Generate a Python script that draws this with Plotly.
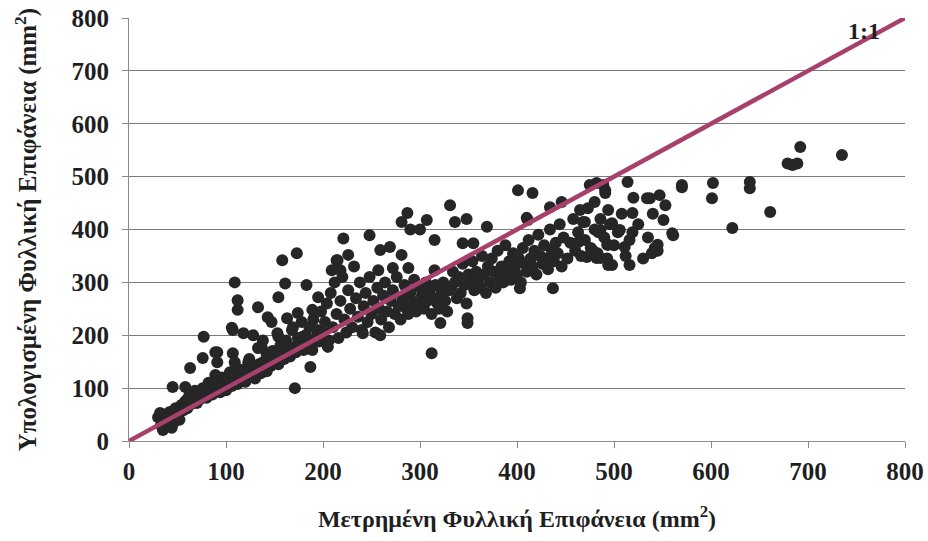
import plotly.graph_objects as go

# Measured leaf area (x) vs. estimated leaf area (y), mm^2
measured = [
    30,33,36,38,40,42,44,46,48,50,52,54,56,58,60,62,64,66,68,70,72,74,76,78,80,82,84,86,88,90,92,94,96,98,100,
    32,39,44,35,49,60,70,80,94,45,58,63,76,77,89,89,91,91,107,118,128,107,109,123,137,142,138,171,
    102,104,106,108,110,112,114,116,118,120,122,124,126,128,130,132,134,136,138,140,142,144,146,148,150,
    152,154,156,158,160,162,164,166,168,170,172,174,176,178,180,182,184,186,188,190,192,194,196,198,200,
    109,112,112,106,133,133,143,147,154,158,173,161,183,187,154,158,174,189,195,205,209,215,153,159,169,179,189,163,
    202,204,206,208,210,212,214,216,218,220,222,224,226,228,230,232,234,236,238,240,242,244,246,248,250,
    252,254,256,258,260,262,264,266,268,270,272,274,276,278,280,282,284,286,288,290,292,294,296,298,300,
    302,304,306,308,310,312,314,316,318,320,322,324,326,328,330,
    221,248,226,214,218,287,281,290,300,307,331,336,348,369,401,411,416,315,259,269,281,272,288,257,315,344,355,
    321,349,312,259,241,349,403,437,
    332,334,336,338,340,342,344,346,348,350,352,354,356,358,360,362,364,366,368,370,372,374,376,378,380,
    382,384,386,388,390,392,394,396,398,400,402,404,406,408,410,412,414,416,418,420,422,424,426,428,430,
    432,434,436,438,440,442,444,446,448,
    452,455,458,460,463,466,470,473,476,480,483,486,490,493,496,500,504,508,512,516,520,525,530,535,540,545,
    434,446,465,475,482,491,410,468,484,463,472,482,493,494,489,514,570,602,601,491,534,547,553,480,494,519,551,
    470,498,506,519,486,561,622,494,511,478,486,542,539,498,516,692,679,689,684,735,570,640,640,661,560,545,537,
]
estimated = [
    45,30,50,38,28,55,42,35,62,50,40,68,58,75,62,85,70,78,95,72,88,80,100,90,82,110,95,88,105,98,115,92,120,108,96,
    53,40,25,21,59,78,83,96,102,102,102,138,157,197,168,125,168,149,166,204,200,210,149,149,176,163,149,100,
    112,130,104,120,140,108,125,118,135,112,128,155,122,140,118,132,145,128,190,140,132,155,142,170,148,
    160,145,180,165,155,190,172,160,210,178,168,195,185,225,172,200,188,215,180,230,195,210,188,245,205,
    300,266,248,214,253,176,234,225,272,342,355,298,295,140,197,178,242,248,272,178,323,342,204,185,215,197,172,232,
    225,260,190,280,215,300,240,195,265,310,230,205,285,250,215,330,270,235,300,210,255,280,225,310,240,
    265,205,290,250,230,275,300,245,215,265,285,240,310,255,230,270,295,250,240,280,265,305,245,260,290,
    275,250,300,265,285,240,270,295,260,250,280,300,265,245,285,
    383,389,352,342,323,431,414,400,400,418,446,414,420,405,474,418,469,380,361,367,352,327,327,323,323,374,374,
    223,223,166,200,204,232,289,289,
    290,320,300,270,310,280,335,295,260,315,300,340,285,320,305,290,350,315,280,330,300,345,320,290,360,
    310,330,300,370,320,340,305,355,330,315,345,300,365,335,320,380,345,330,360,315,390,350,335,370,345,
    325,400,360,340,375,355,410,330,385,
    345,375,420,360,395,350,380,440,365,400,355,420,385,345,410,370,395,430,350,380,460,410,345,385,430,360,
    442,452,437,484,488,469,422,414,395,376,348,346,371,333,484,490,484,488,459,474,459,465,446,452,437,431,418,
    414,412,399,395,399,389,403,371,367,361,346,365,355,333,333,556,525,525,522,541,480,490,478,433,393,371,459,
]

# 1:1 reference line
line_x = [0, 800]
line_y = [0, 800]

tick_vals = [0, 100, 200, 300, 400, 500, 600, 700, 800]
tick_text = ["0", "100", "200", "300", "400", "500", "600", "700", "800"]

x_title = "Μετρημένη Φυλλική Επιφάνεια (mm<sup>2</sup>)"
y_title = "Υπολογισμένη Φυλλική Επιφάνεια (mm<sup>2</sup>)"
line_label = "1:1"

FONT = "Liberation Serif"
TXT = "#1f1f1f"

fig = go.Figure()
fig.add_trace(go.Scatter(
    x=measured, y=estimated, mode="markers",
    marker=dict(color="#262626", size=12, line=dict(width=0)),
    showlegend=False, hoverinfo="x+y",
))
fig.add_trace(go.Scatter(
    x=line_x, y=line_y, mode="lines",
    line=dict(color="#a8406e", width=4.5),
    showlegend=False, hoverinfo="skip",
))

fig.add_annotation(
    x=758, y=775, text="<b>" + line_label + "</b>", showarrow=False,
    font=dict(family=FONT, size=24, color=TXT, weight="bold"),
)

fig.update_layout(
    width=928, height=541,
    margin=dict(l=129, r=23, t=18, b=100),
    paper_bgcolor="white", plot_bgcolor="white",
    font=dict(family=FONT, color=TXT),
    xaxis=dict(
        range=[0, 800], tickvals=tick_vals, ticktext=["<b>%s</b>" % t for t in tick_text],
        tickfont=dict(family=FONT, size=25, color=TXT, weight="bold"),
        showgrid=False, zeroline=False, automargin=False,
        showline=True, linecolor="#8a8a8a", linewidth=1,
        ticks="outside", ticklen=6, tickcolor="#8a8a8a", ticklabelstandoff=2,
        title=dict(text="<b>" + x_title + "</b>", font=dict(family=FONT, size=24, color=TXT, weight="bold"), standoff=26),
    ),
    yaxis=dict(
        range=[0, 800], tickvals=tick_vals, ticktext=["<b>%s</b>" % t for t in tick_text],
        tickfont=dict(family=FONT, size=25, color=TXT, weight="bold"),
        showgrid=True, gridcolor="#7a7a7a", gridwidth=1, zeroline=False, automargin=False,
        showline=True, linecolor="#8a8a8a", linewidth=1,
        ticks="outside", ticklen=6, tickcolor="#8a8a8a", ticklabelstandoff=8,
        title=dict(text="<b>" + y_title + "</b>", font=dict(family=FONT, size=25, color=TXT, weight="bold"), standoff=27),
    ),
)

fig.write_html("out.html")
